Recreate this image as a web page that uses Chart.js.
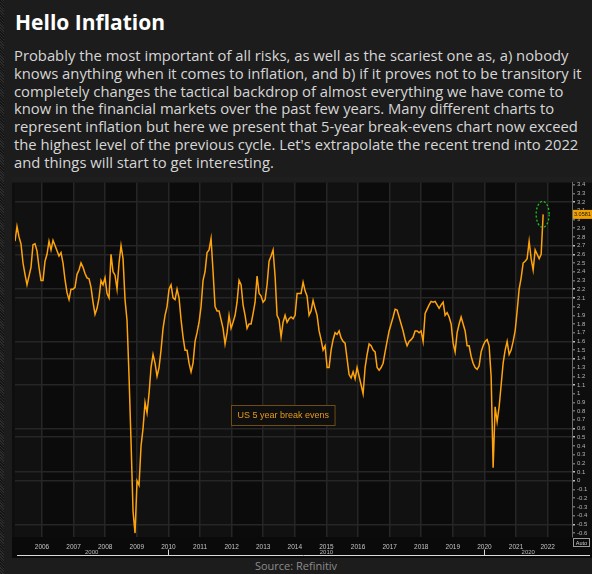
<!DOCTYPE html>
<html lang="en">
<head>
<meta charset="UTF-8">
<script src="https://cdn.jsdelivr.net/npm/chart.js"></script>
<style>
  body, html { margin:0; padding:0; width:592px; height:574px; background:#1c1c1c; overflow:hidden; font-family:"Open Sans", sans-serif; }
  #edge { position:absolute; left:0; top:0; width:4px; height:574px; background:repeating-linear-gradient(45deg,#2b2b2b 0 1px,#151515 1px 2px); }
  h1 { position:absolute; left:15px; top:10px; margin:0; font-size:21px; line-height:24px; font-weight:700; color:#fff; }
  #text { position:absolute; left:14px; top:47px; color:#d6d6d6; font-size:14.8px; line-height:17.8px; white-space:nowrap; }
  #panel { position:absolute; left:12px; top:177px; width:580px; height:381px; background:#0e0e0e; }
  #source { position:absolute; left:0; width:592px; top:558px; text-align:center; color:#8c8c8c; font-size:11px; line-height:16px; }
</style>
</head>
<body>
<div id="edge"></div>
<h1>Hello Inflation</h1>
<div id="text">
  <div>Probably the most important of all risks, as well as the scariest one as, a) nobody</div>
  <div>knows anything when it comes to inflation, and b) if it proves not to be transitory it</div>
  <div>completely changes the tactical backdrop of almost everything we have come to</div>
  <div>know in the financial markets over the past few years. Many different charts to</div>
  <div>represent inflation but here we present that 5-year break-evens chart now exceed</div>
  <div>the highest level of the previous cycle. Let's extrapolate the recent trend into 2022</div>
  <div>and things will start to get interesting.</div>
</div>
<div id="panel"><canvas id="chart" width="580" height="381"></canvas></div>
<div id="source">Source: Refinitiv</div>

<script>
// US 5y breakeven, sampled about every 3 weeks from early 2005 to Nov 2021
const seriesName = 'US 5 year break evens';
const startYear = 2005.146;
const stepYears = 0.0633;
const breakevens = [
  2.75, 2.92, 2.8, 2.72, 2.5, 2.37, 2.25, 2.35, 2.45, 2.71, 2.72, 2.64, 2.45, 2.3, 2.3, 2.52, 2.6, 2.75, 2.65, 2.76,
  2.7, 2.64, 2.58, 2.62, 2.5, 2.31, 2.16, 2.08, 2.2, 2.2, 2.22, 2.37, 2.42, 2.5, 2.45, 2.38, 2.33, 2.32, 2.22, 2.05,
  1.91, 1.98, 2.1, 2.3, 2.25, 2.33, 2.15, 2.1, 2.6, 2.4, 2.36, 2.2, 2.5, 2.7, 2.55, 2.08, 1.84, 1.2, 0.45, -0.35,
  -0.6, 0.0, -0.05, 0.4, 0.6, 0.9, 0.78, 1.0, 1.3, 1.45, 1.35, 1.2, 1.3, 1.5, 1.75, 1.9, 2.0, 2.2, 2.25, 2.1,
  2.08, 2.2, 2.1, 1.85, 1.65, 1.5, 1.5, 1.35, 1.25, 1.35, 1.6, 1.7, 1.82, 2.0, 2.3, 2.4, 2.62, 2.65, 2.78, 2.4,
  2.0, 1.95, 1.95, 1.85, 1.75, 1.57, 1.7, 1.9, 1.75, 1.82, 1.9, 2.05, 2.3, 2.25, 2.02, 1.9, 1.75, 1.8, 1.8, 1.92,
  2.05, 2.35, 2.15, 2.12, 2.05, 2.08, 2.25, 2.52, 2.58, 2.65, 2.35, 1.9, 1.85, 1.65, 1.82, 1.9, 1.82, 1.86, 1.88, 1.86,
  1.9, 2.15, 2.15, 2.15, 2.28, 2.18, 2.12, 1.9, 1.95, 2.07, 1.98, 1.9, 1.72, 1.62, 1.5, 1.55, 1.3, 1.3, 1.5, 1.62,
  1.7, 1.68, 1.72, 1.64, 1.6, 1.58, 1.4, 1.22, 1.18, 1.25, 1.17, 1.3, 1.2, 1.1, 1.0, 1.3, 1.45, 1.57, 1.55, 1.5,
  1.48, 1.3, 1.27, 1.3, 1.35, 1.48, 1.6, 1.72, 1.8, 1.88, 1.97, 1.96, 1.88, 1.8, 1.72, 1.62, 1.55, 1.6, 1.62, 1.65,
  1.72, 1.72, 1.7, 1.72, 1.6, 1.92, 1.97, 2.02, 2.06, 2.05, 2.06, 2.02, 1.98, 2.02, 2.05, 1.9, 1.93, 1.88, 1.8, 1.58,
  1.48, 1.7, 1.8, 1.88, 1.8, 1.72, 1.55, 1.55, 1.43, 1.35, 1.3, 1.28, 1.32, 1.48, 1.55, 1.6, 1.62, 1.55, 1.2, 0.15,
  0.85, 0.68, 0.85, 1.1, 1.35, 1.5, 1.6, 1.45, 1.5, 1.6, 1.72, 1.95, 2.2, 2.33, 2.5, 2.52, 2.55, 2.75, 2.55, 2.42,
  2.65, 2.6, 2.55, 2.6, 3.0581
];

const xMin = 2005.146, xMax = 2022.77;
const yMin = -0.645, yMax = 3.423;
const yearTicks = [2006, 2007, 2008, 2009, 2010, 2011, 2012, 2013, 2014, 2015, 2016, 2017, 2018, 2019, 2020, 2021, 2022];
const valueTicks = [3.4, 3.3, 3.2, 3.1, 3, 2.9, 2.8, 2.7, 2.6, 2.5, 2.4, 2.3, 2.2, 2.1, 2, 1.9, 1.8, 1.7, 1.6, 1.5, 1.4,
  1.3, 1.2, 1.1, 1, 0.9, 0.8, 0.7, 0.6, 0.5, 0.4, 0.3, 0.2, 0.1, 0, -0.1, -0.2, -0.3, -0.4, -0.5, -0.6];
const gridValues = [3.2, 2.7, 2.6, 2.2, 2.1, 1.6, 1.4, 1.1, 0.6, 0.5, 0.1, 0, -0.5];
const decadeLabels = ['2000', '2010', '2020'];
const decadeBreaks = [2010, 2020];

const points = breakevens.map((v, i) => ({ x: startYear + i * stepYears, y: v }));
const isGrid = v => gridValues.some(g => Math.abs(g - v) < 1e-6);

const decor = {
  id: 'decor',
  beforeDraw(chart) {
    const ctx = chart.ctx, a = chart.chartArea, xs = chart.scales.x;
    ctx.save();
    // alternating year bands
    for (let y = Math.floor(xMin); y < xMax; y++) {
      const x0 = Math.max(a.left, xs.getPixelForValue(y));
      const x1 = Math.min(a.right, xs.getPixelForValue(y + 1));
      ctx.fillStyle = (y % 2) ? '#111111' : '#0b0b0b';
      ctx.fillRect(x0, a.top, x1 - x0, a.bottom - a.top);
    }
    ctx.fillStyle = '#0a0a0a';
    ctx.fillRect(0, a.bottom, chart.width, chart.height - a.bottom);
    ctx.fillStyle = '#1e1e1e';
    ctx.fillRect(0, 0, chart.width, a.top);
    ctx.restore();
  },
  afterDatasetsDraw(chart) {
    const ctx = chart.ctx, a = chart.chartArea, xs = chart.scales.x, ys = chart.scales.y;
    const last = points[points.length - 1];
    const lx = xs.getPixelForValue(last.x), ly = ys.getPixelForValue(last.y);
    ctx.save();
    // green dotted ring round the latest high
    ctx.strokeStyle = '#1fc21f';
    ctx.lineWidth = 1.3;
    ctx.setLineDash([2, 2]);
    ctx.beginPath();
    ctx.ellipse(lx - 0.5, ly, 6.5, 13, 0, 0, Math.PI * 2);
    ctx.stroke();
    ctx.setLineDash([]);

    // legend box
    ctx.font = '9px "Liberation Sans", Arial, sans-serif';
    const tw = ctx.measureText(seriesName).width;
    ctx.fillStyle = '#0f0f0f';
    ctx.fillRect(219.5, 228.5, tw + 12, 20);
    ctx.strokeStyle = '#6e4c12';
    ctx.lineWidth = 1;
    ctx.strokeRect(219.5, 228.5, tw + 12, 20);
    ctx.fillStyle = '#e69a1c';
    ctx.textBaseline = 'middle';
    ctx.fillText(seriesName, 225.5, 239);

    // last value tag on the axis
    ctx.fillStyle = '#f0a000';
    ctx.fillRect(a.right + 1, ly - 4.5, chart.width - a.right - 1, 9);
    ctx.fillStyle = '#151515';
    ctx.font = '5.5px "Liberation Sans", Arial, sans-serif';
    ctx.textAlign = 'left';
    ctx.fillText(last.y.toFixed(4), a.right + 2, ly + 0.5);

    // decade row under the year labels
    const rowY = 378.5;
    ctx.strokeStyle = '#d8d8d8';
    ctx.lineWidth = 1;
    ctx.beginPath();
    ctx.moveTo(5, rowY); ctx.lineTo(578, rowY);
    decadeBreaks.forEach(d => {
      const px = Math.round(xs.getPixelForValue(d)) + 0.5;
      ctx.moveTo(px, rowY); ctx.lineTo(px, rowY - 6);
    });
    ctx.stroke();
    const bounds = [a.left, ...decadeBreaks.map(d => xs.getPixelForValue(d)), a.right];
    ctx.fillStyle = '#b9b9b9';
    ctx.font = '6px "Liberation Sans", Arial, sans-serif';
    ctx.textAlign = 'center';
    decadeLabels.forEach((lab, i) => ctx.fillText(lab, (bounds[i] + bounds[i + 1]) / 2, 375));

    // "Auto" button
    ctx.strokeStyle = '#9a9a9a';
    ctx.strokeRect(561.5, 361.5, 16, 8);
    ctx.fillStyle = '#cfcfcf';
    ctx.font = '5.5px "Liberation Sans", Arial, sans-serif';
    ctx.fillText('Auto', 569.5, 366);
    ctx.restore();
  }
};

new Chart(document.getElementById('chart'), {
  type: 'line',
  data: {
    datasets: [{
      label: seriesName,
      data: points,
      borderColor: '#ffa30d',
      borderWidth: 1.5,
      pointRadius: 0,
      tension: 0
    }]
  },
  options: {
    responsive: false,
    animation: false,
    layout: { padding: { left: 3, top: 2, right: 0, bottom: 0 } },
    plugins: { legend: { display: false }, tooltip: { enabled: false } },
    scales: {
      x: {
        type: 'linear',
        min: xMin,
        max: xMax,
        afterBuildTicks: s => { s.ticks = yearTicks.map(v => ({ value: v })); },
        afterFit: s => { s.height = 21; },
        grid: { color: '#262626', lineWidth: 1.5, drawTicks: false },
        border: { display: false },
        ticks: {
          autoSkip: false,
          maxRotation: 0,
          padding: 6,
          color: '#c4c4c4',
          font: { size: 6.5, family: '"Liberation Sans", Arial, sans-serif' },
          callback: v => String(v)
        }
      },
      y: {
        position: 'right',
        min: yMin,
        max: yMax,
        afterBuildTicks: s => { s.ticks = valueTicks.map(v => ({ value: v })); },
        afterFit: s => { s.width = 20; },
        grid: {
          color: c => isGrid(c.tick.value) ? '#262626' : 'rgba(0,0,0,0)',
          lineWidth: 1.5,
          tickLength: 3,
          tickColor: c => isGrid(c.tick.value) ? '#bdbdbd' : '#6c6c6c'
        },
        border: { display: true, color: '#6a6a6a', width: 1 },
        ticks: {
          autoSkip: false,
          padding: 2,
          color: '#b4b4b4',
          font: { size: 6, family: '"Liberation Sans", Arial, sans-serif' },
          callback: v => String(Math.round(v * 10) / 10)
        }
      }
    }
  },
  plugins: [decor]
});
</script>
</body>
</html>
